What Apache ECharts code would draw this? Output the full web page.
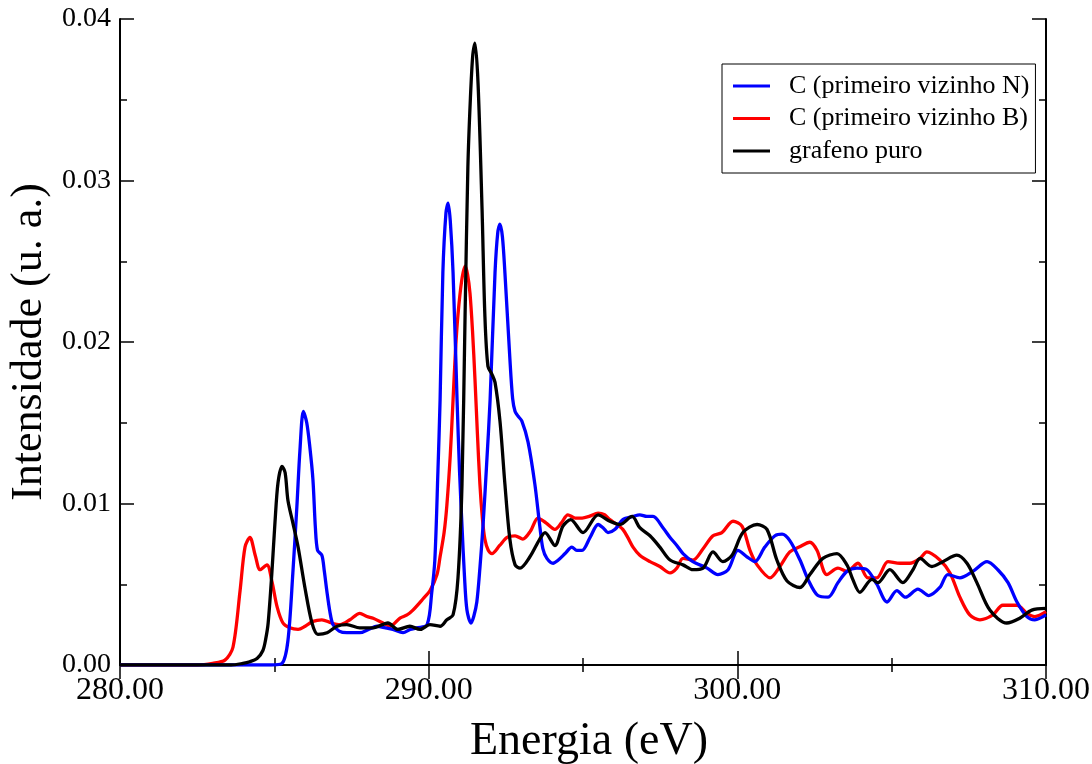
<!DOCTYPE html>
<html>
<head>
<meta charset="utf-8">
<script src="https://cdn.jsdelivr.net/npm/echarts@6/dist/echarts.min.js"></script>
<style>
html,body{margin:0;padding:0;background:#fff;}
#chart{width:1092px;height:764px;}
</style>
</head>
<body>
<div id="chart"></div>
<script>
// ---- Data ----
const seriesNames = ['C (primeiro vizinho N)', 'C (primeiro vizinho B)', 'grafeno puro'];
const xTicks = [280, 290, 300, 310];
const yTicks = [0, 0.01, 0.02, 0.03, 0.04];

const nX = [280,284.9,285.25,285.44,285.6,285.73,285.83,285.94,286.05,286.15,286.25,286.33,286.4,286.54,286.62,286.7,286.8,286.9,287.1,287.35,287.77,288.05,288.33,288.6,288.84,289.17,289.4,289.62,289.95,290.1,290.2,290.3,290.37,290.46,290.56,290.63,290.7,290.79,290.92,291.0,291.08,291.16,291.24,291.37,291.46,291.56,291.66,291.76,291.88,291.99,292.15,292.24,292.31,292.39,292.47,292.63,292.72,292.8,292.9,293.02,293.22,293.44,293.6,293.7,293.83,294.03,294.2,294.42,294.64,294.8,294.97,295.23,295.49,295.65,295.81,296.04,296.29,296.62,296.84,297.07,297.27,297.59,297.82,298.04,298.24,298.56,299.02,299.37,299.7,300.02,300.31,300.57,300.89,301.22,301.45,301.7,302.03,302.29,302.61,302.94,303.26,303.55,303.87,304.2,304.52,304.85,305.17,305.45,305.85,306.2,306.56,306.82,307.21,307.63,308.09,308.44,308.77,309.06,309.38,309.64,310];
const nY = [0,0,0.0001,0.0015,0.0057,0.0098,0.0133,0.0157,0.015,0.0135,0.0115,0.0085,0.0071,0.0068,0.0058,0.0046,0.0033,0.0025,0.0021,0.002,0.002,0.0022,0.0024,0.0023,0.0022,0.002,0.0022,0.0023,0.0025,0.0045,0.0065,0.012,0.0164,0.0243,0.028,0.0286,0.0275,0.0243,0.0164,0.012,0.0086,0.0055,0.0034,0.0026,0.003,0.0039,0.006,0.0086,0.0125,0.0164,0.0243,0.0268,0.0273,0.0265,0.0243,0.019,0.0165,0.0157,0.0154,0.0151,0.0138,0.0112,0.0086,0.0072,0.0066,0.0063,0.0065,0.0069,0.0073,0.0071,0.0071,0.0079,0.0087,0.0085,0.0082,0.0084,0.009,0.0092,0.0093,0.0092,0.0092,0.0085,0.0079,0.0074,0.0069,0.0064,0.006,0.0056,0.0059,0.0071,0.0067,0.0064,0.0073,0.008,0.0081,0.0077,0.0065,0.0053,0.0043,0.0042,0.0051,0.0058,0.006,0.0059,0.005,0.0039,0.0046,0.0042,0.0047,0.0043,0.0048,0.0056,0.0054,0.0058,0.0064,0.0059,0.0051,0.0039,0.003,0.0028,0.0031];

const bX = [280,282.5,283.0,283.4,283.66,283.89,284.05,284.21,284.38,284.54,284.76,284.92,285.09,285.28,285.5,285.77,286.0,286.25,286.54,286.85,287.13,287.45,287.77,288.0,288.2,288.52,288.75,289.07,289.3,289.49,289.82,290.04,290.27,290.37,290.5,290.59,290.7,290.79,290.87,290.95,291.07,291.18,291.26,291.34,291.42,291.5,291.58,291.66,291.74,291.82,291.93,292.05,292.3,292.54,292.8,293.05,293.3,293.54,293.8,294.09,294.3,294.51,294.75,294.97,295.2,295.49,295.7,295.87,296.1,296.29,296.45,296.62,296.84,297.17,297.49,297.82,298.04,298.24,298.56,298.89,299.21,299.5,299.86,300.15,300.41,300.64,301.06,301.38,301.7,302.0,302.35,302.58,302.9,303.26,303.55,303.91,304.23,304.52,304.88,305.27,305.59,305.92,306.14,306.56,306.89,307.21,307.53,307.86,308.28,308.6,309.06,309.38,309.64,310];
const bY = [0,0,0.0001,0.0003,0.0011,0.0046,0.0073,0.0079,0.0068,0.0059,0.0062,0.0052,0.0036,0.0026,0.0023,0.0022,0.0024,0.0027,0.0028,0.0026,0.0025,0.0028,0.0032,0.003,0.0029,0.0026,0.0024,0.0029,0.0031,0.0034,0.0041,0.0046,0.0056,0.0067,0.0082,0.0099,0.013,0.0164,0.0195,0.0217,0.0238,0.0247,0.0242,0.023,0.0207,0.0177,0.0143,0.0112,0.0091,0.0078,0.0071,0.0069,0.0074,0.0079,0.008,0.0078,0.0083,0.0091,0.0088,0.0084,0.0088,0.0093,0.0091,0.0091,0.0092,0.0094,0.0093,0.009,0.0087,0.0084,0.0079,0.0073,0.0068,0.0064,0.0061,0.0057,0.006,0.0066,0.0065,0.0072,0.008,0.0082,0.0089,0.0086,0.0071,0.0062,0.0054,0.0061,0.007,0.0073,0.0076,0.0071,0.0056,0.006,0.0058,0.0063,0.0054,0.0054,0.0064,0.0063,0.0063,0.0066,0.007,0.0065,0.0057,0.0042,0.0031,0.0028,0.0031,0.0037,0.0037,0.0032,0.003,0.0033];

const gX = [280,283.6,283.98,284.2,284.44,284.63,284.72,284.8,284.92,285.02,285.12,285.25,285.35,285.44,285.6,285.77,285.99,286.22,286.41,286.71,287.03,287.35,287.77,288.2,288.68,289.0,289.39,289.72,290.04,290.37,290.59,290.79,290.95,291.08,291.18,291.27,291.35,291.43,291.5,291.6,291.73,291.82,291.92,292.05,292.15,292.31,292.47,292.63,292.8,292.96,293.28,293.6,293.77,294.09,294.35,294.6,295.0,295.49,295.87,296.2,296.59,296.84,297.17,297.49,297.82,298.24,298.56,298.89,299.21,299.53,299.83,300.18,300.64,300.96,301.28,301.61,302.03,302.35,302.77,303.23,303.55,303.74,303.97,304.36,304.55,304.94,305.36,305.69,305.92,306.3,306.66,307.11,307.44,307.76,308.18,308.73,309.15,309.54,310];
const gY = [0,0,0.0001,0.0002,0.0004,0.0009,0.0016,0.0026,0.0057,0.0088,0.0113,0.0123,0.0119,0.0102,0.0088,0.0073,0.0048,0.0026,0.0019,0.002,0.0024,0.0025,0.0023,0.0023,0.0026,0.0022,0.0024,0.0022,0.0025,0.0024,0.0028,0.0031,0.0054,0.0112,0.0217,0.0308,0.035,0.0378,0.0385,0.036,0.0282,0.0217,0.0185,0.018,0.0175,0.0151,0.0112,0.0078,0.0062,0.006,0.0067,0.0078,0.0082,0.0074,0.0086,0.009,0.0082,0.0093,0.0089,0.0087,0.0092,0.0085,0.008,0.0073,0.0065,0.0062,0.0059,0.006,0.007,0.0064,0.0068,0.0082,0.0087,0.0084,0.0065,0.0052,0.0048,0.0056,0.0066,0.0069,0.0062,0.0053,0.0045,0.0053,0.0051,0.0059,0.0051,0.0059,0.0066,0.0061,0.0064,0.0068,0.0063,0.0051,0.0034,0.0026,0.0029,0.0034,0.0035];

const colors = ['#0000ff', '#ff0000', '#000000'];

function pairs(xs, ys){ return xs.map((x,i)=>[x, ys[i]]); }

const FONT = 'Liberation Serif';
const chart = echarts.init(document.getElementById('chart'), null, {renderer:'canvas'});

const tickCommon = {
  axisLine: {show:true, lineStyle:{color:'#000', width:2}},
  axisTick: {show:true, inside:true, length:14, lineStyle:{color:'#000', width:1.5}},
  minorTick: {show:true, splitNumber:2, length:7, lineStyle:{color:'#000', width:1.5}},
  splitLine: {show:false},
  minorSplitLine: {show:false}
};

const option = {
  backgroundColor: '#fff',
  animation: false,
  grid: {left:120, right:46, top:19, bottom:99, containLabel:false, outerBoundsMode:'none'},
  legend: {
    orient: 'vertical',
    left: 722, top: 64,
    backgroundColor: '#fff',
    borderColor: '#000', borderWidth: 1,
    padding: [9, 6, 9, 11],
    itemWidth: 37, itemHeight: 3, itemGap: 6.5,
    icon: 'rect',
    textStyle: {fontFamily: FONT, fontSize: 26, color:'#000', padding:[0,0,0,14], lineHeight: 26},
    data: seriesNames
  },
  xAxis: [
    Object.assign({
      type:'value', min:xTicks[0], max:xTicks[xTicks.length-1], interval:10, position:'bottom',
      name:'Energia (eV)', nameLocation:'middle', nameGap:54,
      nameTextStyle:{fontFamily:FONT, fontSize:46, color:'#000', padding:[0,0,0,12]},
      axisLabel:{fontFamily:FONT, fontSize:32, color:'#000', margin:10, formatter:v=>v.toFixed(2)}
    }, tickCommon),
    Object.assign({
      type:'value', min:xTicks[0], max:xTicks[xTicks.length-1], interval:10, position:'top',
      axisLabel:{show:false}
    }, tickCommon)
  ],
  yAxis: [
    Object.assign({
      type:'value', min:yTicks[0], max:yTicks[yTicks.length-1], interval:0.01, position:'left',
      name:'Intensidade (u. a.)', nameLocation:'middle', nameGap:66,
      nameTextStyle:{fontFamily:FONT, fontSize:44, color:'#000'},
      axisLabel:{fontFamily:FONT, fontSize:28, color:'#000', margin:9, formatter:v=>v.toFixed(2)}
    }, tickCommon),
    Object.assign({
      type:'value', min:yTicks[0], max:yTicks[yTicks.length-1], interval:0.01, position:'right',
      axisLabel:{show:false}
    }, tickCommon)
  ],
  series: [
    {name:seriesNames[0], type:'line', data:pairs(nX,nY), xAxisIndex:0, yAxisIndex:0, showSymbol:false, smooth:0.3, lineStyle:{color:colors[0], width:3.3}, itemStyle:{color:colors[0]}, z:3},
    {name:seriesNames[1], type:'line', data:pairs(bX,bY), xAxisIndex:0, yAxisIndex:0, showSymbol:false, smooth:0.3, lineStyle:{color:colors[1], width:3.3}, itemStyle:{color:colors[1]}, z:2},
    {name:seriesNames[2], type:'line', data:pairs(gX,gY), xAxisIndex:0, yAxisIndex:0, showSymbol:false, smooth:0.3, lineStyle:{color:colors[2], width:3.3}, itemStyle:{color:colors[2]}, z:4}
  ]
};
chart.setOption(option);
</script>
</body>
</html>
